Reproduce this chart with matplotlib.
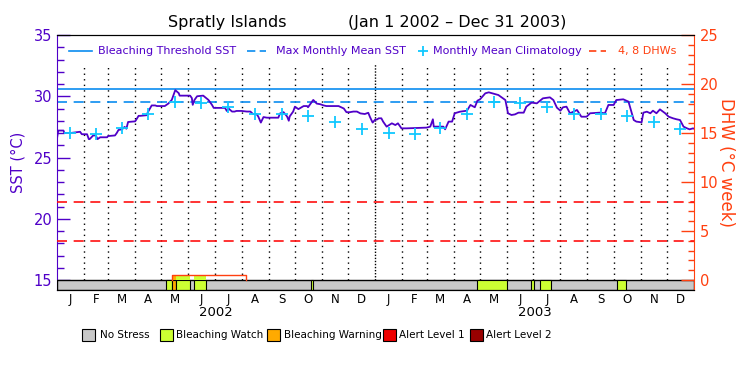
import numpy as np
import matplotlib.pyplot as plt
from matplotlib.lines import Line2D
from matplotlib.patches import Rectangle

W, H = 750, 375

# days since Jan 1 2002 and the SST
sst_day = [0, 2, 8, 9, 16, 27, 29, 35, 37, 38, 42, 45, 47, 50, 58, 59, 67, 69, 71, 75,
           78, 80, 82, 90, 91, 94, 96, 103, 105, 107, 109, 113, 115, 124, 128, 132, 134,
           136, 140, 141, 145, 153, 155, 156, 158, 161, 168, 174, 178, 180, 193, 195, 197,
           201, 204, 206, 212, 218, 222, 225, 229, 231, 234, 237, 241, 254, 256, 260, 264,
           266, 267, 271, 273, 277, 283, 287, 288, 294, 298, 302, 306, 309, 323, 329, 332,
           336, 340, 344, 348, 353, 357, 359, 362, 365, 367, 369, 372, 374, 378, 384, 388,
           391, 395, 401, 424, 428, 431, 432, 437, 443, 445, 449, 453, 456, 462, 470, 474,
           479, 482, 485, 491, 495, 502, 506, 514, 517, 521, 525, 529, 535, 538, 544, 550,
           557, 565, 569, 573, 577, 580, 584, 588, 592, 596, 601, 607, 611, 622, 628, 632,
           638, 641, 649, 655, 661, 664, 670, 672, 676, 680, 683, 687, 691, 697, 701, 706,
           710, 714, 718, 722, 725, 729, 730]
sst_val = [26.3, 27.2, 27.2, 27.0, 27.0, 27.1, 26.9, 26.9, 26.5, 26.5, 26.8, 26.8, 26.5,
           26.65, 26.65, 26.75, 26.8, 27.0, 27.25, 27.3, 27.5, 27.35, 27.9, 27.95, 28.05,
           28.4, 28.4, 28.45, 28.75, 29.0, 29.25, 29.25, 29.2, 29.2, 29.4, 29.7, 30.1, 30.5,
           30.25, 30.05, 30.05, 30.05, 29.85, 29.3, 29.7, 30.0, 30.05, 29.7, 29.3, 29.05,
           29.05, 28.8, 29.0, 28.75, 28.75, 28.8, 28.8, 28.75, 28.75, 28.55, 28.55, 28.35,
           27.85, 28.3, 28.25, 28.25, 28.6, 28.7, 28.35, 28.0, 28.35, 28.75, 29.15, 28.95,
           29.2, 29.2, 29.1, 29.7, 29.4, 29.35, 29.25, 29.2, 29.2, 29.0, 28.7, 28.7, 28.75,
           28.75, 28.6, 28.55, 28.65, 28.3, 27.85, 28.1, 28.1, 28.2, 28.2, 27.93, 27.52,
           27.79, 27.65, 27.79, 27.38, 27.38, 27.44, 27.52, 28.12, 27.52, 27.52, 27.52,
           27.3, 27.93, 27.93, 28.61, 28.74, 28.82, 29.29, 29.1, 29.64, 29.75, 30.24, 30.32,
           30.18, 30.1, 29.69, 28.61, 28.47, 28.52, 28.66, 28.66, 29.15, 29.48, 29.42,
           29.83, 29.91, 29.69, 29.07, 28.82, 29.1, 29.15, 28.61, 28.74, 28.88, 28.33,
           28.33, 28.61, 28.66, 28.61, 29.29, 29.29, 29.69, 29.75, 29.56, 28.06, 27.93,
           27.87, 28.66, 28.74, 28.61, 28.82, 28.61, 28.93, 28.61, 28.33, 28.2, 28.12,
           28.06, 27.52, 27.38, 27.3, 27.38, 27.35]

month_letters = list("JFMAMJJASOND")
clim_sst = [27.03, 26.92, 27.38, 28.52, 29.56, 29.42, 29.10, 28.52, 28.52, 28.42, 27.93, 27.33]
mmm = 29.56
threshold = mmm + 1.0
dhw_lines = [4, 8]

# the only non-zero DHW period (days, value)
dhw_start = 132.6
dhw_end = 216.7
dhw_value = 0.5

status_start = [125.7, 132.6, 137.2, 157.5, 291.8, 481.0, 543.5, 554.0, 642.0]
status_end = [132.6, 137.2, 152.3, 170.9, 294.1, 516.2, 546.8, 566.6, 651.8]
status_level = [1, 2, 1, 1, 1, 1, 1, 1, 1]
status_names = ["No Stress", "Bleaching Watch", "Bleaching Warning", "Alert Level 1", "Alert Level 2"]
status_colors = ["#c8c8c8", "#ccff33", "#ffaa00", "#ee0000", "#990000"]

PURPLE = "#5000c8"
ORANGE = "#ff4010"
BLUE = "#0a8cf0"
CYAN = "#10c8ff"


def fx(x):
    return x / W


def fy(y):
    return 1 - y / H


def main():
    day0 = np.datetime64("2002-01-01")
    mstart = np.arange("2002-01", "2004-01", dtype="datetime64[M]").astype("datetime64[D]")
    edges = np.append((mstart - day0).astype(int), 730)
    mid = (edges[:-1] + edges[1:]) / 2

    fig = plt.figure(figsize=(7.5, 3.75), dpi=100)
    ax = fig.add_axes([fx(56.5), fy(290), fx(694) - fx(56.5), fy(35) - fy(290)])
    ax.set_xlim(0, 730)
    ax.set_ylim(15 - 10 / 12.25, 35)

    # monthly grid
    for d in edges[1:-1]:
        ls = (0, (1, 1.2)) if d == 365 else (0, (1, 3))
        ax.plot([d, d], [15, 32.6], color="black", lw=1, ls=ls, zorder=1)

    ax.axhline(threshold, color=BLUE, lw=1.2, zorder=2)
    ax.axhline(mmm, color=BLUE, lw=1.2, ls=(0, (6, 4)), zorder=2)
    ax.plot(sst_day, sst_val, color=PURPLE, lw=1.3, zorder=4)
    ax.plot(mid, np.tile(clim_sst, 2), "+", color=CYAN, ms=9, mew=1.3, zorder=5)

    # stress bar
    ylow = ax.get_ylim()[0]
    ax.add_patch(Rectangle((0, ylow), 730, 15 - ylow, facecolor=status_colors[0],
                           edgecolor="black", lw=1, zorder=3))
    for s, e, lv in zip(status_start, status_end, status_level):
        ax.add_patch(Rectangle((s, ylow), e - s, 15 - ylow, facecolor=status_colors[lv],
                               edgecolor="black", lw=0.8, zorder=3))

    ax.set_yticks([15, 20, 25, 30, 35])
    ax.set_yticks(np.arange(15, 36, 1), minor=True)
    ax.tick_params(axis="y", which="major", direction="in", length=9.5, width=1,
                   colors=PURPLE, labelsize=10.5, pad=3)
    ax.tick_params(axis="y", which="minor", direction="in", length=5, width=1, colors=PURPLE)
    ax.set_xticks(mid)
    ax.set_xticklabels(month_letters * 2)
    ax.tick_params(axis="x", length=0, labelsize=8.5, pad=2)
    ax.set_ylabel("SST (°C)", color=PURPLE, fontsize=10.5, labelpad=6)
    ax.spines["left"].set_color(PURPLE)
    ax.spines["right"].set_visible(False)
    ax.spines["top"].set_color("black")

    ax2 = ax.twinx()
    ax2.set_ylim(-10 / 9.8, 25)
    for lvl in dhw_lines:
        ax2.axhline(lvl, color="#ff1010", lw=1.2, ls=(0, (6, 4)), zorder=2)
    # DHW area colored by stress level
    for s, e, lv in zip(status_start, status_end, status_level):
        a, b = max(s, dhw_start), min(e, dhw_end)
        if b > a:
            ax2.fill_between([a, b], 0, dhw_value, color=status_colors[lv], lw=0, zorder=2)
    ax2.plot([dhw_start, dhw_start, dhw_end, dhw_end], [0, dhw_value, dhw_value, 0],
             color=ORANGE, lw=1, zorder=3)
    ax2.set_yticks([0, 5, 10, 15, 20, 25])
    ax2.set_yticks(np.arange(0, 26, 1), minor=True)
    ax2.tick_params(axis="y", which="major", direction="in", length=9.5, width=1,
                    colors=ORANGE, labelsize=10.5, pad=4)
    ax2.tick_params(axis="y", which="minor", direction="in", length=4.5, width=1, colors=ORANGE)
    ax2.set_ylabel("DHW (°C week)", color=ORANGE, fontsize=12, rotation=-90, labelpad=12)
    ax2.spines["right"].set_color(ORANGE)
    ax2.spines["left"].set_visible(False)
    ax2.spines["top"].set_color("black")

    # year labels
    for yr, xc in [("2002", 182.5), ("2003", 547.5)]:
        ax.text(xc, -0.09, yr, transform=ax.get_xaxis_transform(), ha="center", va="center",
                fontsize=9.5)

    fig.text(fx(227), fy(22), "Spratly Islands", ha="center", va="center", fontsize=11.5)
    fig.text(fx(457), fy(22), "(Jan 1 2002 \u2013 Dec 31 2003)", ha="center", va="center",
             fontsize=11.5)

    # legend inside plot
    ly = fy(51)
    fig.add_artist(Line2D([fx(69), fx(92)], [ly, ly], color=BLUE, lw=1.2))
    fig.text(fx(98), ly, "Bleaching Threshold SST", color=PURPLE, fontsize=8, va="center")
    fig.add_artist(Line2D([fx(247), fx(266)], [ly, ly], color=BLUE, lw=1.2, ls=(0, (5, 2.6))))
    fig.text(fx(276.5), ly, "Max Monthly Mean SST", color=PURPLE, fontsize=8, va="center")
    fig.add_artist(Line2D([fx(423)], [ly], color=CYAN, marker="+", ms=7, mew=1.3))
    fig.text(fx(433), ly, "Monthly Mean Climatology", color=PURPLE, fontsize=8, va="center")
    fig.add_artist(Line2D([fx(589), fx(606)], [ly, ly], color=ORANGE, lw=1.2, ls=(0, (4.4, 2.6))))
    fig.text(fx(617.5), ly, "4, 8 DHWs", color=ORANGE, fontsize=8, va="center")

    # stress level legend
    px0 = [82, 159.5, 267, 383, 469.5]
    tx0 = [100, 176, 284, 399.5, 486]
    for x0, t0, name, col in zip(px0, tx0, status_names, status_colors):
        fig.add_artist(Rectangle((fx(x0), fy(340.5)), 13.3 / W, 11.3 / H, facecolor=col,
                                 edgecolor="black", lw=0.8, transform=fig.transFigure))
        fig.text(fx(t0), fy(335.5), name, fontsize=7.5, va="center")

    fig.savefig("out.png", dpi=100)


if __name__ == "__main__":
    main()
